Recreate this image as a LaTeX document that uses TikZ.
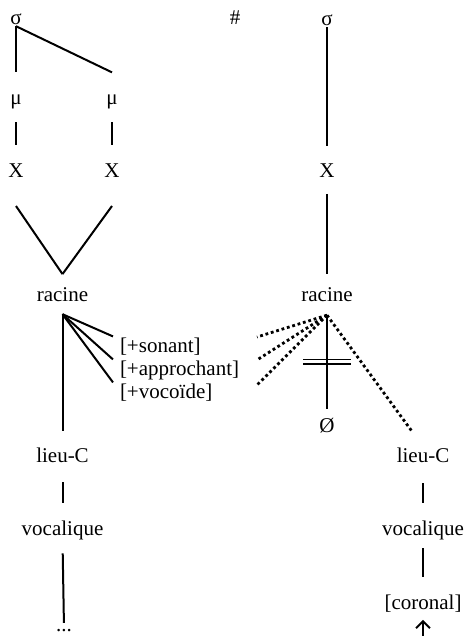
\documentclass[tikz,border=0pt]{standalone}
\usepackage{fontspec}
\setmainfont{Liberation Serif}
\usetikzlibrary{arrows,arrows.meta}

\begin{document}
\begin{tikzpicture}[x=1pt,y=-1pt,line width=2pt,>={Straight Barb[length=7pt,width=14pt]}]
            \tikzstyle{lab}=[inner sep=0pt,anchor=base,font=\fontsize{21}{25}\selectfont]
            \tikzstyle{feat}=[lab,anchor=base west,inner xsep=6pt]
            \tikzstyle{cut}=[dash pattern=on 2.8pt off 2.8pt,line width=2.8pt]

            \useasboundingbox (0,0) rectangle (467,636);

            % left tree
            \node[lab] (sigL)  at (16,25)    {σ};
            \node[lab] (muL)   at (16,105)   {μ};
            \node[lab] (muR)   at (112,105)  {μ};
            \node[lab] (xL)    at (16,178)   {X};
            \node[lab] (xR)    at (112,178)  {X};
            \node[lab] (racL)  at (62.5,301) {racine};
            \node[feat] (son)  at (113,352)  {[+sonant]};
            \node[feat] (appr) at (113,375)  {[+approchant]};
            \node[feat] (voc)  at (113,398)  {[+vocoïde]};
            \node[lab] (lieuL) at (62.5,462) {lieu-C};
            \node[lab] (vocaL) at (62.5,535) {vocalique};
            \node[lab] (etc)   at (64,631)   {...};
            \coordinate (rootL) at ([yshift=-12pt]racL.south);

            % right tree
            \node[lab] (hash)  at (235,25)   {\#};
            \node[lab] (sigR)  at (327,26)   {σ};
            \node[lab] (xRR)   at (327,178)  {X};
            \node[lab] (racR)  at (327,301)  {racine};
            \node[lab] (null)  at (327,432)  {Ø};
            \node[lab] (lieuR) at (423,462)  {lieu-C};
            \node[lab] (vocaR) at (423,535)  {vocalique};
            \node[lab] (coro)  at (423,609)  {[coronal]};
            \coordinate (rootR) at ([yshift=-13pt]racR.south);
            \coordinate (f1) at (257,337);
            \coordinate (f2) at (257,360);
            \coordinate (f3) at (257,385);
            \coordinate (brk) at (327,361.7);
            \coordinate (tail) at (423,636);

            \draw[line width=1.7pt] ([xshift=-24pt,yshift=2.2pt]brk) -- ([xshift=24pt,yshift=2.2pt]brk);
            \draw[line width=1.7pt] ([xshift=-24pt,yshift=-2.2pt]brk) -- ([xshift=24pt,yshift=-2.2pt]brk);

            \path   (sigL.south) edge [shorten >=22pt] (muL.north)
                    (sigL.south) edge ([yshift=22pt]muR.north)
                    (muL.south) edge [shorten <=12pt, shorten >=18pt] (xL.north)
                    (muR.south) edge [shorten <=12pt, shorten >=18pt] (xR.north)
                    ([yshift=-27pt]xL.south) edge ([yshift=12pt]racL.north)
                    ([yshift=-27pt]xR.south) edge ([yshift=12pt]racL.north)
                    (rootL) edge [shorten >=15pt] (lieuL.north)
                    (rootL) edge (son.north west)
                    (rootL) edge (appr.north west)
                    (rootL) edge (voc.north west)
                    (lieuL.south) edge [shorten <=19pt, shorten >=16pt] (vocaL.north)
                    (vocaL.south) edge [shorten <=13pt, shorten >=5pt] (etc.north);

            \path   (sigR.south) edge [shorten >=17pt] (xRR.north)
                    (xRR.south) edge [shorten <=15pt, shorten >=12pt] (racR.north)
                    (rootR) edge [shorten >=8pt] (null.north)
                    (rootR) edge [cut, shorten >=18pt] (lieuR.north)
                    (rootR) edge [cut] (f1)
                    (rootR) edge [cut] (f2)
                    (rootR) edge [cut] (f3)
                    (lieuR.south) edge [shorten <=20pt, shorten >=16pt] (vocaR.north)
                    (vocaR.south) edge [shorten <=8pt, shorten >=16pt] (coro.north)
                    (tail) edge [->, shorten >=7pt] (coro.south);
        \end{tikzpicture}
\end{document}
